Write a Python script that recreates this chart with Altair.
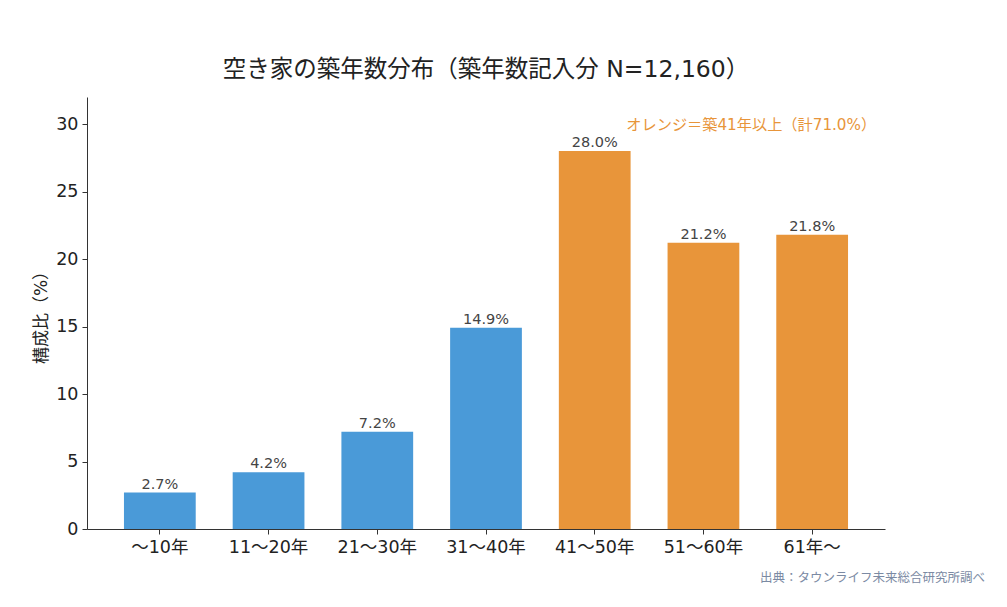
import altair as alt
import pandas as pd

categories = ["～10年", "11～20年", "21～30年", "31～40年", "41～50年", "51～60年", "61年～"]
values = [2.7, 4.2, 7.2, 14.9, 28.0, 21.2, 21.8]
groups = ["blue", "blue", "blue", "blue", "orange", "orange", "orange"]
labels = ["2.7%", "4.2%", "7.2%", "14.9%", "28.0%", "21.2%", "21.8%"]

title_text = "空き家の築年数分布（築年数記入分 N=12,160）"
y_title = "構成比（%）"
note_text = "オレンジ＝築41年以上（計71.0%）"
note_y = [29.9]
note_cat = ["61年～"]
source_text = "出典：タウンライフ未来総合研究所調べ"

FONT = "DejaVu Sans, Noto Sans CJK JP"
BLUE = "#4a9ad8"
ORANGE = "#e8953a"

df = pd.DataFrame({"cat": categories, "val": values, "grp": groups, "lab": labels})
note_df = pd.DataFrame({"cat": note_cat, "val": note_y, "txt": [note_text]})
src_df = pd.DataFrame({"txt": [source_text]})

xenc = alt.X("cat:N", sort=categories, title=None,
             scale=alt.Scale(paddingInner=0.34, paddingOuter=0.34),
             axis=alt.Axis(labelAngle=0, labelFontSize=17.5, labelFont=FONT, labelColor="#222222",
                           domainColor="#333333", tickColor="#333333", tickSize=5,
                           labelPadding=4, grid=False))
yenc = alt.Y("val:Q", title=y_title,
             scale=alt.Scale(domain=[0, 32], nice=False),
             axis=alt.Axis(values=[0, 5, 10, 15, 20, 25, 30], labelFontSize=17.5, labelFont=FONT,
                           labelColor="#222222", titleFont=FONT, titleFontSize=17,
                           titleFontWeight="normal", titleColor="#222222", titlePadding=5,
                           domainColor="#333333", tickColor="#333333", tickSize=5,
                           labelPadding=4, grid=False))

bars = alt.Chart(df).mark_bar().encode(
    x=xenc, y=yenc,
    color=alt.Color("grp:N", scale=alt.Scale(domain=["blue", "orange"], range=[BLUE, ORANGE]), legend=None),
)

text = alt.Chart(df).mark_text(baseline="bottom", dy=-1, fontSize=14.5, font=FONT, color="#444444").encode(
    x=alt.X("cat:N", sort=categories), y="val:Q", text="lab:N"
)

note = alt.Chart(note_df).mark_text(align="right", baseline="middle", dx=64, fontSize=15.2,
                                    font=FONT, color=ORANGE).encode(
    x=alt.X("cat:N", sort=categories), y="val:Q", text="txt:N"
)

src = alt.Chart(src_df).mark_text(align="right", baseline="middle", fontSize=12.5, font=FONT,
                                  color="#7b8aa3").encode(
    x=alt.value(898), y=alt.value(481), text="txt:N"
)

chart = alt.layer(bars, text, note, src).properties(
    width=798, height=432,
    background="white",
    title=alt.TitleParams(title_text, font=FONT, fontSize=23.5, fontWeight="normal",
                          color="#222222", anchor="middle", offset=16),
    autosize=alt.AutoSizeParams(type="none"),
    padding={"left": 79, "top": 89, "right": 110, "bottom": 70},
).configure_view(stroke="transparent", strokeWidth=0)

chart.save("out.html", embed_options={"renderer": "svg", "actions": False})
